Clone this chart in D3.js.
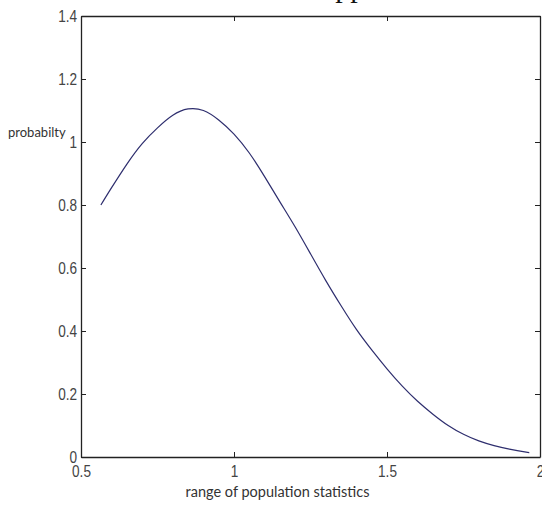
<!DOCTYPE html>
<html>
<head>
<meta charset="utf-8">
<script src="https://cdn.jsdelivr.net/npm/d3@7"></script>
<style>
  body { margin: 0; background: #fff; }
  svg { display: block; }
</style>
</head>
<body>
<div id="chart"></div>
<script>
// values
const xVals = [0.565, 0.60, 0.65, 0.70, 0.75, 0.80, 0.85, 0.90, 0.95, 1.00,
               1.05, 1.10, 1.15, 1.20, 1.25, 1.30, 1.35, 1.40, 1.45, 1.50,
               1.55, 1.60, 1.65, 1.70, 1.75, 1.80, 1.85, 1.90, 1.95, 1.965];
const yVals = [0.80, 0.855, 0.93, 0.995, 1.045, 1.085, 1.105, 1.10, 1.07, 1.025,
               0.965, 0.89, 0.81, 0.73, 0.645, 0.56, 0.48, 0.405, 0.34, 0.28,
               0.225, 0.177, 0.136, 0.10, 0.072, 0.051, 0.036, 0.025, 0.016, 0.014];
const xTicks = [0.5, 1, 1.5, 2];
const yTicks = [0, 0.2, 0.4, 0.6, 0.8, 1, 1.2, 1.4];
const xLabel = "range of population statistics";
const yLabel = "probabilty";
const title = "approximation";

const width = 542, height = 505;
const margin = {top: 16, right: 2, bottom: 48, left: 81};

const svg = d3.select("#chart").append("svg")
    .attr("width", width)
    .attr("height", height);

const xScale = d3.scaleLinear()
    .domain([0.5, 2])
    .range([margin.left, width - margin.right]);

const yScale = d3.scaleLinear()
    .domain([0, 1.4])
    .range([height - margin.bottom, margin.top]);

const tickFont = "'Liberation Sans', Arial, sans-serif";

// bottom axis, ticks inward
let xaxis = svg.append("g")
    .attr("transform", "translate(0," + yScale(0) + ")")
    .call(d3.axisBottom(xScale).tickValues(xTicks).tickSizeInner(-5).tickSizeOuter(0).tickPadding(10)
        .tickFormat(d3.format("")));
// top axis
let xaxisTop = svg.append("g")
    .attr("transform", "translate(0," + yScale(1.4) + ")")
    .call(d3.axisTop(xScale).tickValues(xTicks).tickSizeInner(-5).tickSizeOuter(0).tickFormat(""));
// left axis
let yaxis = svg.append("g")
    .attr("transform", "translate(" + xScale(0.5) + ",0)")
    .call(d3.axisLeft(yScale).tickValues(yTicks).tickSizeInner(-5).tickSizeOuter(0).tickPadding(5)
        .tickFormat(d3.format("")));
// right axis
let yaxisRight = svg.append("g")
    .attr("transform", "translate(" + xScale(2) + ",0)")
    .call(d3.axisRight(yScale).tickValues(yTicks).tickSizeInner(-5).tickSizeOuter(0).tickFormat(""));

[xaxis, xaxisTop, yaxis, yaxisRight].forEach(function (g) {
    g.select(".domain").attr("stroke", "#222").attr("stroke-width", 1.3);
    g.selectAll(".tick line").attr("stroke", "#222").attr("stroke-width", 1);
    g.selectAll(".tick text")
        .attr("fill", "#444")
        .style("font-family", tickFont)
        .style("font-size", "17px");
});
// narrow digits like the picture
xaxis.selectAll(".tick text")
    .attr("dy", "0.6em")
    .attr("transform", "scale(0.8,1)");
yaxis.selectAll(".tick text")
    .attr("dy", "0.35em")
    .attr("transform", "scale(0.8,1)");

// curve
const line = d3.line()
    .x((d, i) => xScale(xVals[i]))
    .y((d, i) => yScale(yVals[i]))
    .curve(d3.curveNatural);

svg.append("path")
    .datum(yVals)
    .attr("fill", "none")
    .attr("stroke", "#2e2e6e")
    .attr("stroke-width", 1.2)
    .attr("d", line);

// labels
svg.append("text")
    .text(yLabel)
    .attr("x", 8)
    .attr("y", 137)
    .attr("fill", "#333")
    .style("font-family", "Lato, 'Open Sans', sans-serif")
    .style("font-size", "13px");

svg.append("text")
    .text(xLabel)
    .attr("x", (xScale(0.5) + xScale(2)) / 2 - 33)
    .attr("y", 497)
    .attr("text-anchor", "middle")
    .attr("fill", "#333")
    .style("font-family", "Lato, 'Open Sans', sans-serif")
    .style("font-size", "14.5px");

// title, almost entirely above the top edge
svg.append("text")
    .text(title)
    .attr("x", 322)
    .attr("y", -3)
    .attr("fill", "#111")
    .style("font-family", "'Liberation Serif', 'Times New Roman', serif")
    .style("font-size", "30px");
</script>
</body>
</html>
